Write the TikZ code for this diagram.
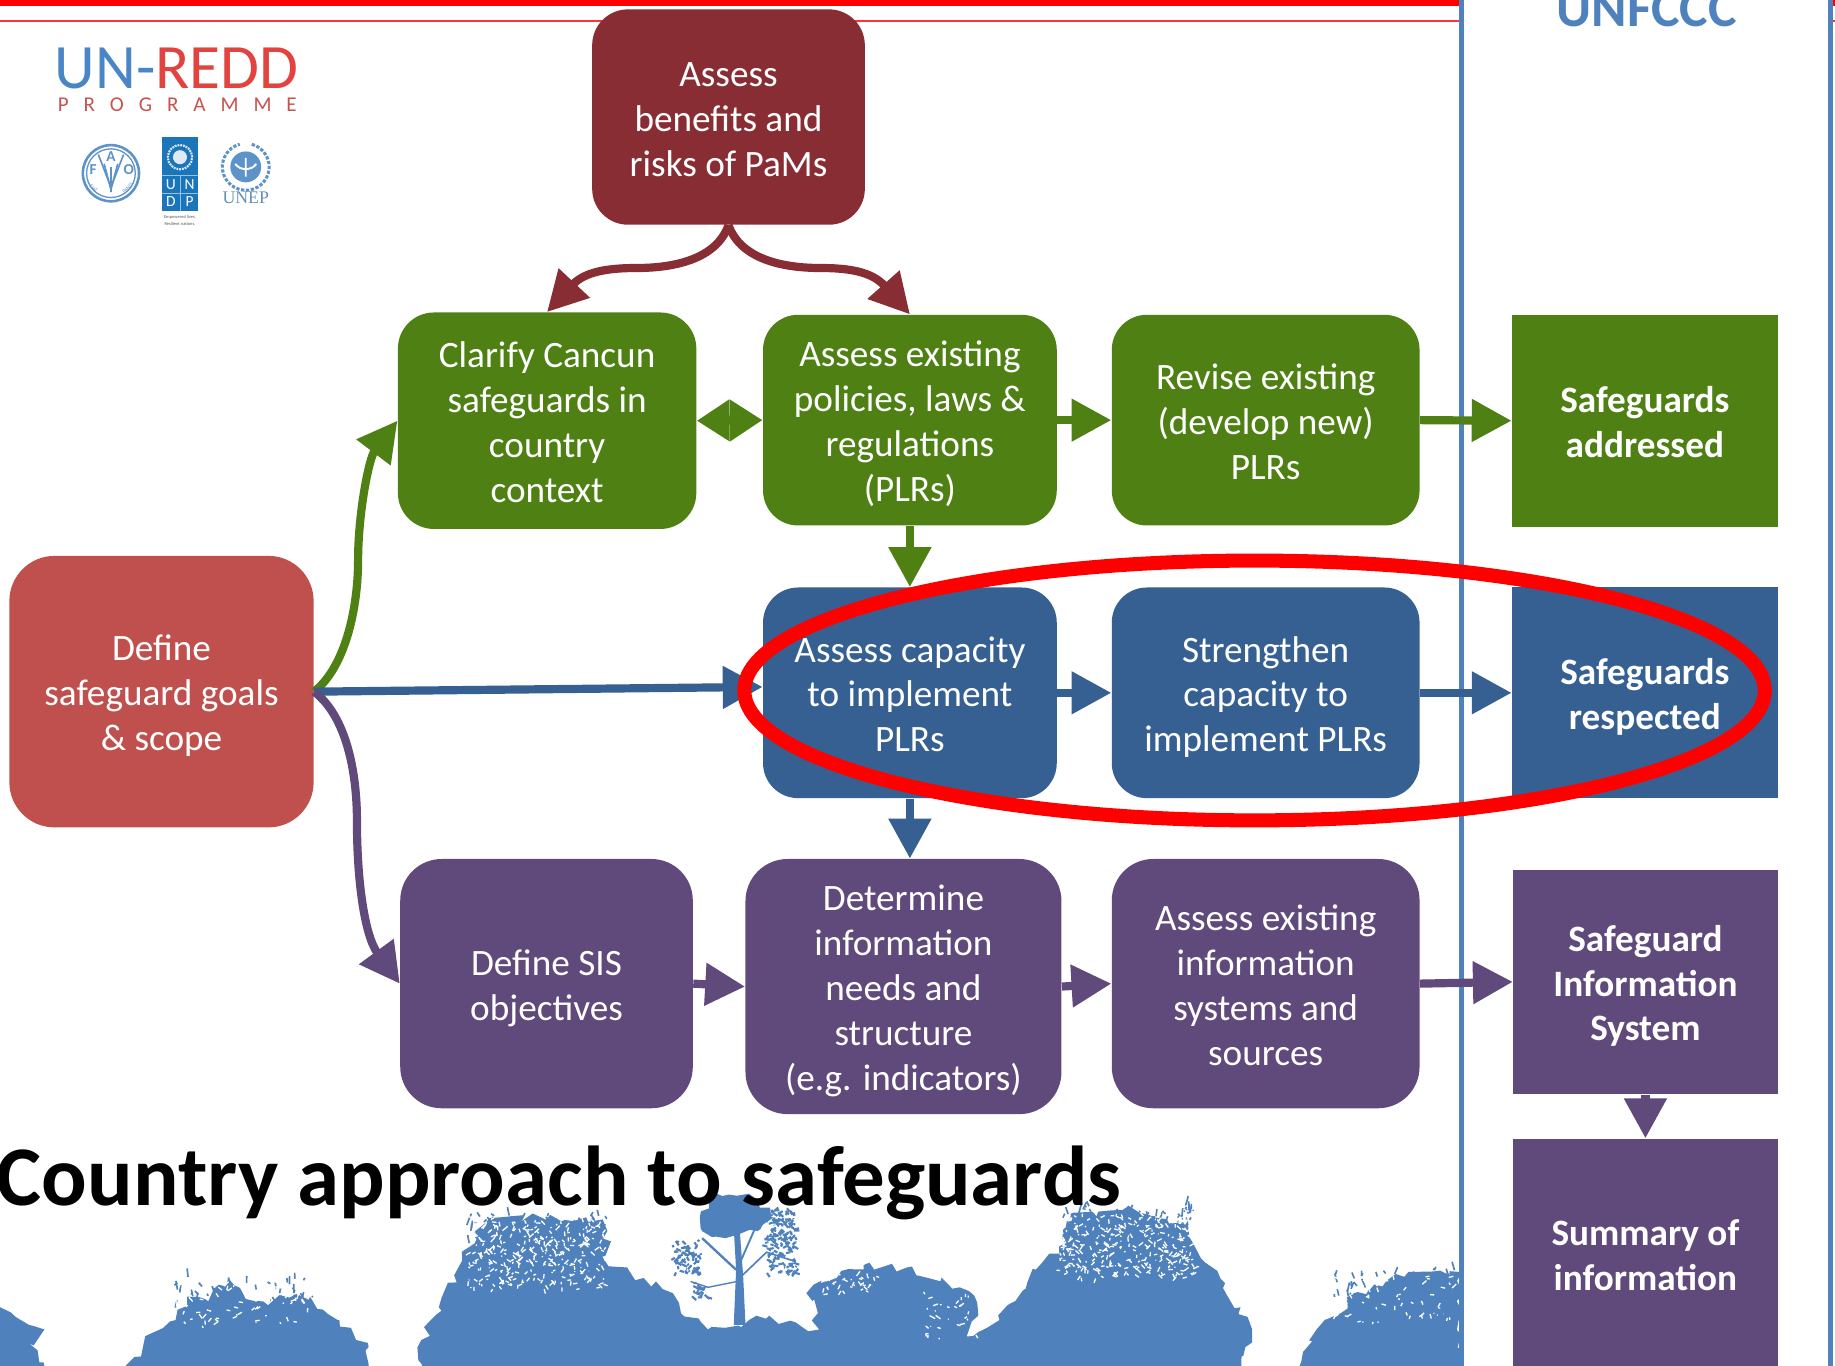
\documentclass[tikz,border=0pt]{standalone}
\usepackage{fontspec}
\setmainfont{Carlito}
\newfontfamily\logoserif{Liberation Serif}
\usetikzlibrary{arrows.meta,calc,decorations.pathmorphing}
\definecolor{cmaroon}{HTML}{892D35}
\definecolor{cgreen}{HTML}{4E8014}
\definecolor{cred}{HTML}{C0504D}
\definecolor{cblue}{HTML}{366092}
\definecolor{cpurple}{HTML}{604A7B}
\definecolor{cframe}{HTML}{4F81BD}
\definecolor{ctree}{HTML}{4F81BD}
\definecolor{clogob}{HTML}{4A86C5}
\definecolor{clogor}{HTML}{E2433F}
\definecolor{clogol}{HTML}{5E93C8}
\definecolor{cundp}{HTML}{1A75BB}
\newcommand{\tst}{\rule{0pt}{17.1pt}}
\newcommand{\bst}{\rule[-5pt]{0pt}{5pt}}
% scatter of short strokes: colour, count, x0, xspan, y0, yspan, dx, dy, width
\newcommand{\scatter}[9]{%
  \foreach \i in {1,...,#2}{%
    \pgfmathsetmacro\px{#3+#4*rnd}%
    \pgfmathsetmacro\py{#5+#6*rnd}%
    \pgfmathsetmacro\qx{#7*(rnd-.5)*2}%
    \pgfmathsetmacro\qy{#8*(rnd-.5)*2}%
    \draw[#1,line width=#9] (\px,\py) -- ++(\qx,\qy);
  }}
\tikzset{
  sz/.style 2 args={minimum width=#1*0.5pt,minimum height=#2*0.5pt},
  boxtext/.style={text=white,inner sep=0pt,align=center,font=\fontsize{15.9}{19.2}\selectfont},
  rbox/.style={boxtext,rounded corners=#1},
  sqbox/.style={boxtext,font=\bfseries\fontsize{15.9}{19.2}\selectfont},
  conn/.style={line width=3.5pt,-{Triangle[length=17pt,width=17.5pt]}},
  dblconn/.style={line width=3.5pt,{Triangle[length=14pt,width=17pt]}-{Triangle[length=14pt,width=17pt]}},
  jag/.style={decorate,decoration={random steps,segment length=3.5pt,amplitude=2.4pt}},
  logotxt/.style={inner sep=0pt,anchor=base}
}
\begin{document}
\begin{tikzpicture}[x=0.5pt,y=-0.5pt]
\clip (0,0) rectangle (1568,1167.2);
\useasboundingbox (0,0) rectangle (1568,1167.2);
\fill[white] (0,0) rectangle (1568,1167.2);
% header rules
\fill[red] (0,0) rectangle (1568,5);
\fill[red!80!white] (0,17.3) rectangle (1568,18.7);
% trees
\pgfmathsetseed{11}
\fill[ctree,jag] (-10,1117) -- (0,1117) -- (38,1136) -- (25,1148) -- (40,1175) -- (-10,1175) -- cycle;
\fill[ctree,jag] (105,1175) -- (130,1139) -- (150,1128) -- (160,1108) -- (178,1112) -- (195,1092) -- (210,1110) -- (225,1112) -- (265,1108) -- (290,1128) -- (315,1151) -- (320,1175) -- cycle;
\fill[ctree,jag] (362,1175) -- (360,1145) -- (375,1117) -- (395,1077) -- (415,1045) -- (470,1038) -- (515,1042) -- (520,1082) -- (550,1092) -- (575,1105) -- (585,1125) -- (605,1136) -- (640,1128) -- (680,1130) -- (700,1136) -- (689,1105) -- (715,1092) -- (738,1081) -- (775,1083) -- (820,1100) -- (835,1113) -- (826,1142) -- (854,1128) -- (885,1085) -- (905,1065) -- (915,1037) -- (960,1034) -- (1015,1045) -- (1030,1079) -- (1060,1117) -- (1070,1136) -- (1060,1175) -- cycle;
\fill[ctree,jag] (1110,1175) -- (1125,1136) -- (1160,1104) -- (1200,1091) -- (1249,1087) -- (1249,1175) -- cycle;
% tall tree
\fill[ctree,jag] (598,1040) -- (605,1022) -- (640,1020) -- (658,1032) -- (650,1050) -- (620,1058) -- (600,1052) -- cycle;
\fill[ctree] (627,1132) -- (629,1085) -- (627,1050) -- (632,1050) -- (635,1090) -- (637,1132) -- cycle;
\draw[ctree,line width=1pt] (629,1085) -- (600,1058);
\draw[ctree,line width=.8pt] (631,1082) -- (645,1050) -- (660,1040);
\draw[ctree,line width=.7pt] (632,1092) -- (655,1070) -- (680,1078);
\draw[ctree,line width=.6pt] (630,1095) -- (605,1100) -- (590,1095);
% loose foliage of the tall tree
\scatter{ctree}{150}{655}{26}{1034}{54}{5}{4}{.9pt}
\scatter{ctree}{70}{575}{24}{1060}{30}{5}{4}{.9pt}
\scatter{ctree}{18}{590}{16}{1096}{14}{5}{4}{.9pt}
% feathered edges and light speckle of the crowns
\scatter{ctree}{90}{398}{120}{1038}{24}{3}{8}{.7pt}
\scatter{ctree}{90}{908}{112}{1030}{24}{3}{8}{.7pt}
\scatter{ctree}{40}{150}{120}{1090}{24}{3}{8}{.7pt}
\scatter{ctree}{40}{1140}{108}{1084}{24}{3}{8}{.7pt}
\scatter{white}{320}{400}{118}{1042}{60}{4}{4}{.55pt}
\scatter{white}{320}{905}{118}{1038}{55}{4}{4}{.55pt}
\scatter{white}{70}{145}{125}{1095}{40}{4}{4}{.55pt}
\scatter{white}{70}{1130}{115}{1090}{40}{4}{4}{.55pt}
\scatter{white}{35}{700}{50}{1088}{18}{4}{4}{.55pt}
\scatter{white}{30}{790}{45}{1105}{40}{5}{3}{.55pt}
% title
\node[inner sep=0pt,anchor=base west,font=\bfseries\fontsize{36.3}{44}\selectfont] (title) at (-3,1030) {Country approach to safeguards};
% UNFCCC frame
\draw[cframe,line width=2.35pt,fill=white] (1249,-20) rectangle (1564,1190);
\node[inner sep=0pt,anchor=base,text=cframe,font=\bfseries\fontsize{23}{28}\selectfont] (unfccc) at (1407,23) {UNFCCC};
% logos
\node[logotxt,font=\fontsize{27}{30}\selectfont] (unredd) at (151,76) {\textcolor{clogob}{UN-}\textcolor{clogor}{REDD}};
\node[logotxt,text=clogor!75!gray,font=\fontsize{9}{11}\selectfont] (prog) at (151.5,95.6) {\addfontfeature{LetterSpace=71}PROGRAMME};
% FAO
\draw[clogol,line width=1.1pt,fill=white] (94.8,148) circle (12pt);
\draw[clogol,line width=.55pt] (94.8,148) circle (10.4pt);
\node[logotxt,text=clogol,font=\bfseries\fontsize{6.5}{7}\selectfont] (fao-f) at (79.5,149) {F};
\node[logotxt,text=clogol,font=\bfseries\fontsize{6.5}{7}\selectfont] (fao-a) at (94.8,138) {A};
\node[logotxt,text=clogol,font=\bfseries\fontsize{6.5}{7}\selectfont] (fao-o) at (110,149) {O};
\draw[clogol,line width=.7pt] (84,132) -- (94.8,160) -- (105.6,132);
\draw[clogol,line width=.7pt] (89,140) -- (94.8,162) -- (100.6,140);
\draw[clogol,line width=.7pt] (94.8,143) -- (94.8,164);
\node[text=clogol,inner sep=0pt,rotate=-45,font=\fontsize{2.2}{3}\selectfont] (fao-fiat) at (80,161) {FIAT};
\node[text=clogol,inner sep=0pt,rotate=45,font=\fontsize{2.2}{3}\selectfont] (fao-panis) at (109,161) {PANIS};
% UNDP
\fill[cundp] (138.7,117) rectangle (169.5,180);
\draw[white!55!cundp,line width=.3pt] (138.7,150) -- (169.5,150) (138.7,165) -- (169.5,165) (154,150) -- (154,180);
\draw[white!85!cundp,line width=.9pt,dash pattern=on .8pt off .4pt] (153.8,134.3) circle (5.2pt);
\fill[white!85!cundp] (153.8,134.3) circle (3pt);
\node[logotxt,text=white,font=\fontsize{6.6}{8}\selectfont] (undp-u) at (146,161.5) {U};
\node[logotxt,text=white,font=\fontsize{6.6}{8}\selectfont] (undp-n) at (162,161.5) {N};
\node[logotxt,text=white,font=\fontsize{6.6}{8}\selectfont] (undp-d) at (146,176.5) {D};
\node[logotxt,text=white,font=\fontsize{6.6}{8}\selectfont] (undp-p) at (162,176.5) {P};
\node[inner sep=0pt,align=center,text=gray!70!black,font=\fontsize{1.9}{2.8}\selectfont] (undp-tag) at (153.8,188.5) {Empowered lives.\\Resilient nations.};
% UNEP
\draw[clogol,line width=1.3pt,dash pattern=on 1.4pt off .7pt] (210,142.6) ++(75:10pt) arc[start angle=75,end angle=-255,radius=10pt];
\fill[clogol] (210,142.6) circle (6.6pt);
\draw[white,line width=.8pt] (210,135) -- (210,151) (201,140) .. controls (205,146) and (215,146) .. (219,140);
\node[logotxt,text=clogol!80!gray,font=\logoserif\fontsize{7.6}{9}\selectfont] (unep) at (210,173.6) {UNEP};
% boxes
\node[rbox=15.3pt,fill=cmaroon,sz={233}{184}] (pams) at (622.5,100) {\tst Assess\\benefits and\\\bst risks of PaMs};
\node[rbox=15.4pt,fill=cgreen,sz={255}{185}] (clarify) at (467.5,359.5) {\tst Clarify Cancun\\safeguards in\\country\\\bst context};
\node[rbox=15pt,fill=cgreen,sz={251}{180}] (policies) at (777.5,359) {\tst Assess existing\\policies, laws \&\\regulations\\\bst (PLRs)};
\node[rbox=15pt,fill=cgreen,sz={263}{180}] (revise) at (1081.5,359) {\tst Revise existing\\(develop new)\\\bst PLRs};
\node[sqbox,fill=cgreen,sz={227}{181}] (addressed) at (1405.5,359.5) {\tst Safeguards\\\bst addressed};
\node[rbox=19.3pt,fill=cred,sz={260}{232}] (define) at (138,591) {\tst Define\\safeguard goals\\\bst \& scope};
\node[rbox=15pt,fill=cblue,sz={251}{180}] (capacity) at (777.5,592) {\tst Assess capacity\\to implement\\\bst PLRs};
\node[rbox=15pt,fill=cblue,sz={263}{180}] (strengthen) at (1081.5,592) {\tst Strengthen\\capacity to\\\bst implement PLRs};
\node[sqbox,fill=cblue,sz={227}{180}] (respected) at (1405.5,592) {\tst Safeguards\\\bst respected};
\node[rbox=17.7pt,fill=cpurple,sz={250}{213}] (sisobj) at (467,840.5) {\tst Define SIS\\\bst objectives};
\node[rbox=18pt,fill=cpurple,sz={270}{218}] (determine) at (772,843) {\tst Determine\\information\\needs and\\structure\\\bst (e.g. indicators)};
\node[rbox=17.7pt,fill=cpurple,sz={263}{213}] (existing) at (1081.5,840.5) {\tst Assess existing\\information\\systems and\\\bst sources};
\node[sqbox,fill=cpurple,sz={226}{192}] (sis) at (1406,839) {\tst Safeguard\\Information\\\bst System};
\node[sqbox,fill=cpurple,sz={226}{197}] (summary) at (1406,1071.5) {\tst Summary of\\\bst information};
% connectors
\draw[conn,cmaroon] (pams.south) .. controls (612,222) and (575,229) .. (544,229) .. controls (520,229) and (500,232) .. (clarify.north);
\draw[conn,cmaroon] (pams.south) .. controls (633,222) and (670,229) .. (701,229) .. controls (725,229) and (745,232) .. (policies.north);
\draw[conn,cgreen] (define.east) .. controls (295,570) and (306,520) .. (306,478) .. controls (306,440) and (315,392) .. (clarify.west);
\draw[conn,cblue] (define.east) -- ($(capacity.west)+(0,-5)$);
\draw[conn,cpurple] (define.east) .. controls (296,612) and (305,660) .. (305,701) .. controls (305,755) and (312,800) .. (sisobj.west);
\draw[dblconn,cgreen] (clarify.east) -- (policies.west);
\draw[conn,cgreen] (policies.east) -- (revise.west);
\draw[conn,cgreen] (revise.east) -- (addressed.west);
\draw[conn,cgreen] (policies.south) -- (capacity.north);
\draw[conn,cblue] (capacity.east) -- (strengthen.west);
\draw[conn,cblue] (strengthen.east) -- (respected.west);
\draw[conn,cblue] (capacity.south) -- (capacity.south |- determine.north);
\draw[conn,cpurple] (sisobj.east) -- (determine.west);
\draw[conn,cpurple] (determine.east) -- (existing.west);
\draw[conn,cpurple] (existing.east) -- (sis.west);
\draw[conn,cpurple] (sis.south) -- (summary.north);
% highlight
\draw[red,line width=6pt] (1072,590) ellipse [x radius=218pt,y radius=55.5pt];
\end{tikzpicture}
\end{document}
